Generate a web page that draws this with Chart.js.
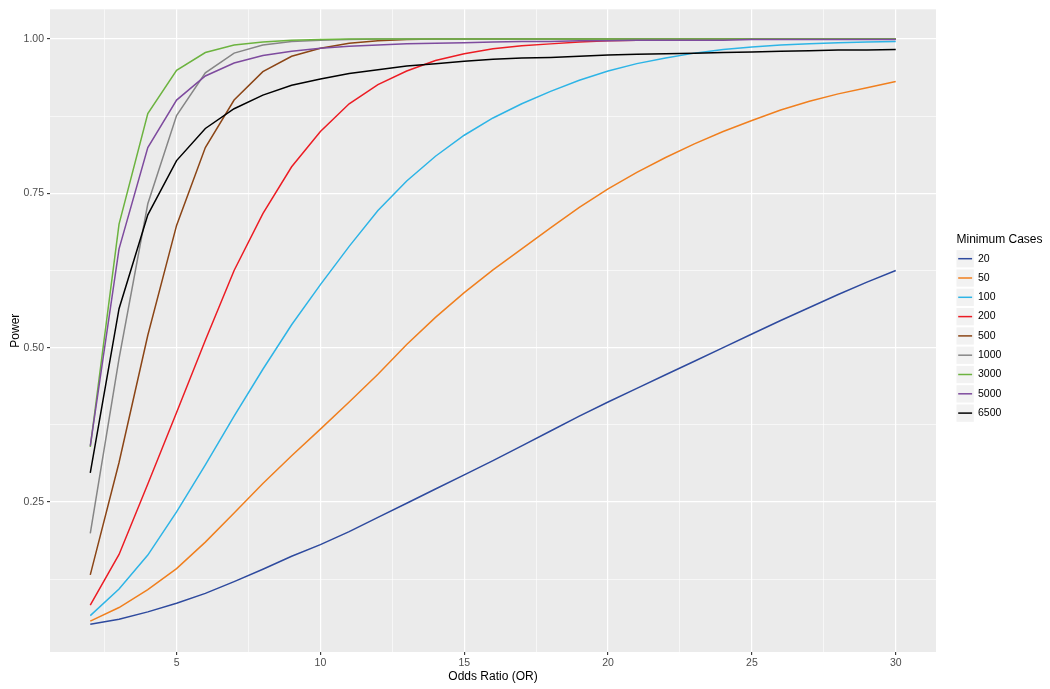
<!DOCTYPE html>
<html>
<head>
<meta charset="utf-8">
<script src="https://cdn.jsdelivr.net/npm/chart.js@4"></script>
<style>
  html, body { margin: 0; padding: 0; background: #fff; }
  #wrap { width: 1050px; height: 689px; }
</style>
</head>
<body>
<div id="wrap"><canvas id="powerChart" width="1050" height="689"></canvas></div>
<script>
// Odds ratio on x, power on y, one line per minimum case count
var oddsRatio = [2, 3, 4, 5, 6, 7, 8, 9, 10, 11, 12, 13, 14, 15, 16, 17, 18, 19, 20, 21, 22, 23, 24, 25, 26, 27, 28, 29, 30];

var caseLabels = ['20', '50', '100', '200', '500', '1000', '3000', '5000', '6500'];

var power20 = [0.052, 0.060, 0.072, 0.086, 0.102, 0.121, 0.141, 0.162, 0.181, 0.202, 0.225, 0.248, 0.271, 0.294, 0.317,
    0.341, 0.365, 0.389, 0.412, 0.434, 0.456, 0.478, 0.500, 0.522, 0.544, 0.565, 0.586, 0.606, 0.625];
var power50 = [0.057, 0.079, 0.108, 0.142, 0.185, 0.232, 0.280, 0.325, 0.368, 0.412, 0.457, 0.505, 0.549, 0.589, 0.626,
    0.660, 0.694, 0.727, 0.757, 0.784, 0.808, 0.830, 0.850, 0.868, 0.885, 0.899, 0.911, 0.921, 0.931];
var power100 = [0.066, 0.109, 0.164, 0.234, 0.310, 0.389, 0.465, 0.537, 0.602, 0.664, 0.722, 0.770, 0.810, 0.844, 0.872,
    0.895, 0.915, 0.933, 0.948, 0.960, 0.969, 0.977, 0.983, 0.987, 0.990, 0.992, 0.994, 0.995, 0.996];
var power200 = [0.083, 0.165, 0.279, 0.395, 0.512, 0.625, 0.717, 0.793, 0.850, 0.895, 0.926, 0.948, 0.965, 0.976, 0.984,
    0.989, 0.992, 0.995, 0.997, 0.998, 0.999, 0.999, 1.0, 1.0, 1.0, 1.0, 1.0, 1.0, 1.0];
var power500 = [0.132, 0.314, 0.520, 0.698, 0.824, 0.901, 0.947, 0.972, 0.985, 0.993, 0.997, 0.999, 1.0, 1.0, 1.0,
    1.0, 1.0, 1.0, 1.0, 1.0, 1.0, 1.0, 1.0, 1.0, 1.0, 1.0, 1.0, 1.0, 1.0];
var power1000 = [0.199, 0.482, 0.733, 0.876, 0.945, 0.977, 0.990, 0.996, 0.998, 0.999, 1.0, 1.0, 1.0, 1.0, 1.0,
    1.0, 1.0, 1.0, 1.0, 1.0, 1.0, 1.0, 1.0, 1.0, 1.0, 1.0, 1.0, 1.0, 1.0];
var power3000 = [0.339, 0.700, 0.879, 0.949, 0.978, 0.990, 0.995, 0.998, 0.999, 1.0, 1.0, 1.0, 1.0, 1.0, 1.0,
    1.0, 1.0, 1.0, 1.0, 1.0, 1.0, 1.0, 1.0, 1.0, 1.0, 1.0, 1.0, 1.0, 1.0];
var power5000 = [0.341, 0.660, 0.824, 0.901, 0.940, 0.961, 0.973, 0.980, 0.985, 0.988, 0.990, 0.992, 0.993, 0.994, 0.995,
    0.996, 0.996, 0.997, 0.997, 0.998, 0.998, 0.998, 0.998, 0.999, 0.999, 0.999, 0.999, 0.999, 0.999];
var power6500 = [0.297, 0.563, 0.715, 0.803, 0.855, 0.887, 0.909, 0.925, 0.935, 0.944, 0.950, 0.956, 0.960, 0.964, 0.967,
    0.969, 0.970, 0.972, 0.974, 0.975, 0.976, 0.977, 0.978, 0.979, 0.980, 0.981, 0.982, 0.982, 0.983];

var allPower = [power20, power50, power100, power200, power500, power1000, power3000, power5000, power6500];

var lineColors = ['#2e4a9e', '#f07f1e', '#2db4e6', '#ec1c24', '#8b4516', '#868686', '#6cb33f', '#7e4b9e', '#000000'];

var xMajor = [5, 10, 15, 20, 25, 30];
var xMinor = [2.5, 7.5, 12.5, 17.5, 22.5, 27.5];
var yMajor = [0.25, 0.50, 0.75, 1.00];
var yMinor = [0.125, 0.375, 0.625, 0.875];

var fontFamily = '"Liberation Sans", Arial, Helvetica, sans-serif';

function isMajor(list, v) {
    for (var i = 0; i < list.length; i++) {
        if (Math.abs(list[i] - v) < 1e-6) return true;
    }
    return false;
}

var datasets = allPower.map(function(vals, i) {
    return {
        label: caseLabels[i],
        data: oddsRatio.map(function(x, j) { return { x: x, y: vals[j] }; }),
        borderColor: lineColors[i],
        backgroundColor: lineColors[i],
        borderWidth: 1.5,
        pointRadius: 0,
        tension: 0,
        fill: false,
        order: allPower.length - i
    };
});

// grey panel behind the grid
var panelBg = {
    id: 'panelBg',
    beforeDraw: function(chart) {
        var a = chart.chartArea;
        var ctx = chart.ctx;
        ctx.save();
        ctx.fillStyle = '#ebebeb';
        ctx.fillRect(a.left, a.top, a.right - a.left, a.bottom - a.top);
        ctx.restore();
    }
};

// ggplot style legend on the right
var sideLegend = {
    id: 'sideLegend',
    afterDraw: function(chart) {
        var ctx = chart.ctx;
        var x0 = 956.5, yTitle = 240, y0 = 258.7, step = 19.3;
        ctx.save();
        ctx.fillStyle = '#000';
        ctx.font = '12px ' + fontFamily;
        ctx.textBaseline = 'middle';
        ctx.textAlign = 'left';
        ctx.fillText('Minimum Cases', x0, yTitle);
        chart.data.datasets.forEach(function(ds, i) {
            var cy = y0 + i * step;
            ctx.fillStyle = '#f2f2f2';
            ctx.fillRect(x0, cy - 8.6, 17.3, 17.3);
            ctx.strokeStyle = ds.borderColor;
            ctx.lineWidth = 1.5;
            ctx.beginPath();
            ctx.moveTo(x0 + 1.7, cy);
            ctx.lineTo(x0 + 15.6, cy);
            ctx.stroke();
            ctx.fillStyle = '#000';
            ctx.font = '10.5px ' + fontFamily;
            ctx.fillText(ds.label, x0 + 21.5, cy);
        });
        ctx.restore();
    }
};

new Chart(document.getElementById('powerChart').getContext('2d'), {
    type: 'line',
    data: { datasets: datasets },
    options: {
        responsive: false,
        animation: false,
        layout: { padding: { top: 6, right: 114, bottom: 0, left: 0 } },
        plugins: {
            legend: { display: false },
            tooltip: { enabled: false }
        },
        scales: {
            x: {
                type: 'linear',
                min: 0.6,
                max: 31.4,
                afterBuildTicks: function(scale) {
                    scale.ticks = xMinor.concat(xMajor).sort(function(a, b) { return a - b; })
                        .map(function(v) { return { value: v }; });
                },
                afterFit: function(scale) { scale.height = 37; },
                border: { display: false },
                grid: {
                    color: '#ffffff',
                    lineWidth: function(c) { return isMajor(xMajor, c.tick.value) ? 1.2 : 0.6; },
                    tickColor: function(c) { return isMajor(xMajor, c.tick.value) ? '#333333' : 'rgba(0,0,0,0)'; },
                    tickWidth: 1.1,
                    tickLength: 3
                },
                ticks: {
                    autoSkip: false,
                    maxRotation: 0,
                    padding: 2,
                    color: '#4d4d4d',
                    font: { family: fontFamily, size: 10.5 },
                    callback: function(v) { return isMajor(xMajor, v) ? String(v) : ''; }
                },
                title: {
                    display: true,
                    text: 'Odds Ratio (OR)',
                    color: '#000',
                    font: { family: fontFamily, size: 12 },
                    padding: { top: 0, bottom: 5 }
                }
            },
            y: {
                type: 'linear',
                min: 0.007,
                max: 1.048,
                afterBuildTicks: function(scale) {
                    scale.ticks = yMinor.concat(yMajor).sort(function(a, b) { return a - b; })
                        .map(function(v) { return { value: v }; });
                },
                afterFit: function(scale) { scale.width = 50; },
                border: { display: false },
                grid: {
                    color: '#ffffff',
                    lineWidth: function(c) { return isMajor(yMajor, c.tick.value) ? 1.2 : 0.6; },
                    tickColor: function(c) { return isMajor(yMajor, c.tick.value) ? '#333333' : 'rgba(0,0,0,0)'; },
                    tickWidth: 1.1,
                    tickLength: 3
                },
                ticks: {
                    autoSkip: false,
                    padding: 3,
                    color: '#4d4d4d',
                    font: { family: fontFamily, size: 10.5 },
                    callback: function(v) { return isMajor(yMajor, v) ? v.toFixed(2) : ''; }
                },
                title: {
                    display: true,
                    text: 'Power',
                    color: '#000',
                    font: { family: fontFamily, size: 12 },
                    padding: { top: 8, bottom: 0 }
                }
            }
        }
    },
    plugins: [panelBg, sideLegend]
});
</script>
</body>
</html>
